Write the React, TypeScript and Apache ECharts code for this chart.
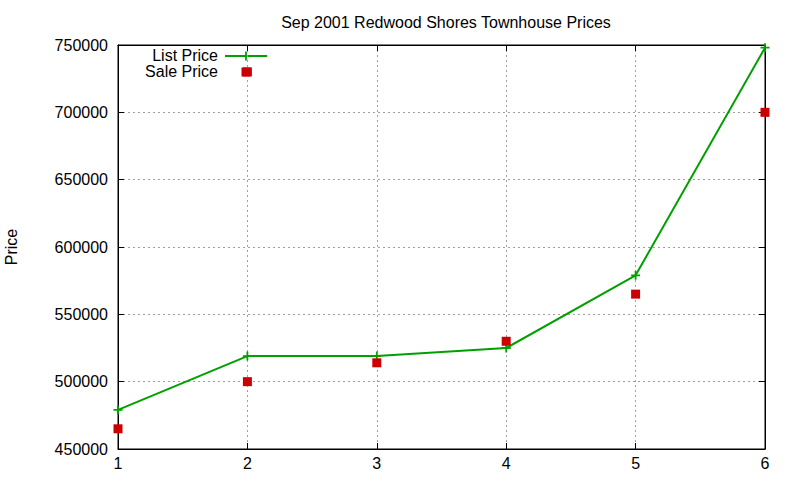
import { useEffect, useRef } from 'react';
import * as echarts from 'echarts';

const houseIndex = [1, 2, 3, 4, 5, 6];
const listPrices = [479000, 519000, 519000, 525000, 579000, 748000];
const saleIndex = [1, 2, 2, 3, 4, 5, 6];
const salePrices = [465000, 500000, 730000, 514000, 530000, 565000, 700000];

const FONT = 'Liberation Sans, Arial, sans-serif';
const GREEN = '#00a000';
const RED = '#cc0000';
const PLUS = 'path://M3.6,0h1.8v9h-1.8z M0,3.6h9v1.8h-9z';

export default function App() {
  const chartRef = useRef<HTMLDivElement>(null);

  useEffect(() => {
    if (!chartRef.current) return;
    const chart = echarts.init(chartRef.current, undefined, { renderer: 'svg' });

    const tickStyle = { show: true, inside: true, length: 6, lineStyle: { color: '#000', width: 1 } };
    const gridLine = { show: true, lineStyle: { color: '#a0a0a0', type: [2, 3] as number[], width: 1 } };

    const option: echarts.EChartsOption = {
      animation: false,
      backgroundColor: '#fff',
      textStyle: { fontFamily: FONT },
      title: {
        text: 'Sep 2001 Redwood Shores Townhouse Prices',
        left: 441,
        top: 9,
        textAlign: 'center',
        textStyle: { fontFamily: FONT, fontSize: 16, fontWeight: 'normal', color: '#000' },
      },
      grid: {
        left: 118,
        right: 35,
        top: 45,
        bottom: 31,
        containLabel: false,
        outerBoundsMode: 'none',
        show: true,
        borderColor: '#000',
        borderWidth: 1,
        backgroundColor: 'transparent',
      } as any,
      xAxis: [
        {
          type: 'value',
          min: 1,
          max: 6,
          interval: 1,
          position: 'bottom',
          axisLine: { show: true, lineStyle: { color: '#000', width: 1 } },
          axisTick: tickStyle,
          splitLine: gridLine,
          axisLabel: { color: '#000', fontSize: 16, fontFamily: FONT, margin: 6 },
        },
        {
          type: 'value',
          min: 1,
          max: 6,
          interval: 1,
          position: 'top',
          axisLine: { show: true, lineStyle: { color: '#000', width: 1 } },
          axisTick: tickStyle,
          splitLine: { show: false },
          axisLabel: { show: false },
        },
      ],
      yAxis: [
        {
          type: 'value',
          min: 450000,
          max: 750000,
          interval: 50000,
          position: 'left',
          name: 'Price',
          nameLocation: 'middle',
          nameGap: 99,
          nameRotate: 90,
          nameTextStyle: { color: '#000', fontSize: 16, fontFamily: FONT },
          axisLine: { show: true, lineStyle: { color: '#000', width: 1 } },
          axisTick: tickStyle,
          splitLine: gridLine,
          axisLabel: {
            color: '#000',
            fontSize: 16,
            fontFamily: FONT,
            margin: 10,
            formatter: (v: number) => String(v),
          },
        },
        {
          type: 'value',
          min: 450000,
          max: 750000,
          interval: 50000,
          position: 'right',
          axisLine: { show: true, lineStyle: { color: '#000', width: 1 } },
          axisTick: tickStyle,
          splitLine: { show: false },
          axisLabel: { show: false },
        },
      ],
      series: [
        {
          name: 'List Price',
          type: 'line',
          data: houseIndex.map((x, i) => [x, listPrices[i]]),
          symbol: PLUS,
          symbolSize: 9,
          showAllSymbol: true,
          clip: false,
          lineStyle: { color: GREEN, width: 2 },
          itemStyle: { color: GREEN, opacity: 1 },
          z: 3,
        },
        {
          name: 'Sale Price',
          type: 'scatter',
          data: saleIndex.map((x, i) => [x, salePrices[i]]),
          symbol: 'rect',
          symbolSize: 9,
          clip: false,
          itemStyle: { color: RED, opacity: 1 },
          z: 4,
        },
      ],
      graphic: [
        {
          type: 'text',
          right: 800 - 218,
          top: 47,
          style: { text: 'List Price', fontSize: 16, fontFamily: FONT, fill: '#000', textAlign: 'right' },
        },
        {
          type: 'line',
          shape: { x1: 225, y1: 56, x2: 267, y2: 56 },
          style: { stroke: GREEN, lineWidth: 2 },
        },
        {
          type: 'rect',
          shape: { x: 245.1, y: 51.5, width: 1.8, height: 9 },
          style: { fill: GREEN },
        },
        {
          type: 'text',
          right: 800 - 218,
          top: 63,
          style: { text: 'Sale Price', fontSize: 16, fontFamily: FONT, fill: '#000', textAlign: 'right' },
        },
        {
          type: 'rect',
          shape: { x: 241.5, y: 67.5, width: 9, height: 9 },
          style: { fill: RED },
        },
      ],
    };

    chart.setOption(option);
    return () => chart.dispose();
  }, []);

  return (
    <div
      ref={chartRef}
      style={{ position: 'fixed', left: 0, top: 0, width: 800, height: 480 }}
    />
  );
}
